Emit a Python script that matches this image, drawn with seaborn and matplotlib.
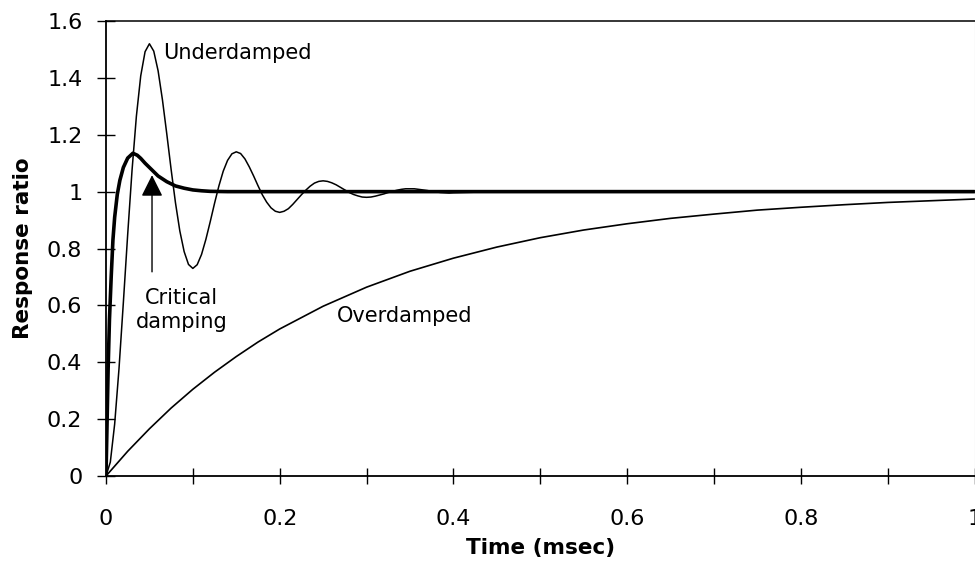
import numpy as np
import pandas as pd
import matplotlib
matplotlib.use("Agg")
import matplotlib.pyplot as plt
import seaborn as sns

# ---- data ----
under_t = list(np.round(np.arange(0, 0.4001, 0.005), 3)) + [0.45, 1.0]
under_v = [0, .049, .183, .378, .610, .850, 1.075, 1.265, 1.407, 1.492,
           1.520, 1.494, 1.425, 1.323, 1.203, 1.078, .961, .862, .789, .744,
           .730, .743, .779, .832, .894, .959, 1.020, 1.072, 1.110, 1.133,
           1.140, 1.134, 1.115, 1.087, 1.055, 1.021, .989, .963, .943, .931,
           .927, .931, .940, .955, .972, .989, 1.005, 1.019, 1.030, 1.036,
           1.038, 1.036, 1.031, 1.024, 1.015, 1.006, .997, .990, .985, .981,
           .980, .981, .984, .988, .992, .997, 1.001, 1.005, 1.008, 1.010,
           1.010, 1.010, 1.008, 1.006, 1.004, 1.001, .999, .997, .996, .995, .996,
           1.0, 1.0]

crit_t = [0, 0.001, 0.0025, 0.004, 0.006, 0.008, 0.01, 0.013, 0.016, 0.02,
          0.025, 0.031, 0.036, 0.04, 0.045, 0.05, 0.06, 0.07, 0.08, 0.09,
          0.1, 0.11, 0.12, 0.14, 1.0]
crit_v = [0, 0.15, 0.38, 0.55, 0.70, 0.83, 0.91, 0.99, 1.04, 1.085,
          1.118, 1.135, 1.128, 1.117, 1.10, 1.085, 1.055, 1.035, 1.02, 1.012,
          1.006, 1.003, 1.001, 1.0, 1.0]

over_t = [0, 0.025, 0.05, 0.075, 0.1, 0.125, 0.15, 0.175, 0.2, 0.25, 0.3, 0.35,
          0.4, 0.45, 0.5, 0.55, 0.6, 0.65, 0.7, 0.75, 0.8, 0.85, 0.9, 0.95, 1.0]
over_v = [0, .087, .166, .239, .305, .365, .420, .471, .517, .597, .664, .720,
          .766, .805, .838, .865, .887, .906, .921, .935, .945, .954, .962, .968, .974]

x_ticks = [0, 0.2, 0.4, 0.6, 0.8, 1.0]
x_tick_labels = ["0", "0.2", "0.4", "0.6", "0.8", "1"]
y_ticks = [0, 0.2, 0.4, 0.6, 0.8, 1.0, 1.2, 1.4, 1.6]
y_tick_labels = ["0", "0.2", "0.4", "0.6", "0.8", "1", "1.2", "1.4", "1.6"]

# ---- plot ----
sns.set_theme(style="white")
plt.rcParams['font.family'] = ['DejaVu Sans']
plt.rcParams['text.color'] = 'black'
plt.rcParams['axes.labelcolor'] = 'black'

fig = plt.figure(figsize=(9.75, 5.63), dpi=100)
ax = fig.add_axes([0.1087, 0.1545, 0.8908, 0.8082])

sns.lineplot(x=over_t, y=over_v, ax=ax, color="black", linewidth=1.2, sort=False)
sns.lineplot(x=under_t, y=under_v, ax=ax, color="black", linewidth=1.1, sort=False)
sns.lineplot(x=crit_t, y=crit_v, ax=ax, color="black", linewidth=2.6, sort=False)

ax.set_xlim(0, 1.0)
ax.set_ylim(0, 1.6)
ax.set_xticks(x_ticks)
ax.set_xticklabels(x_tick_labels)
ax.set_xticks([0.1, 0.3, 0.5, 0.7, 0.9], minor=True)
ax.set_yticks(y_ticks)
ax.set_yticklabels(y_tick_labels)

ax.tick_params(axis="x", which="both", direction="inout", length=11, width=1.0,
               colors="black", labelsize=16, pad=18, bottom=True)
ax.tick_params(axis="y", which="both", direction="inout", length=13, width=1.0,
               colors="black", labelsize=16, pad=10.5, left=True)

for side in ["left", "bottom"]:
    ax.spines[side].set_color("black")
    ax.spines[side].set_linewidth(1.3)
ax.spines["top"].set_color("black")
ax.spines["top"].set_linewidth(1.1)
ax.spines["right"].set_color("#bbbbbb")
ax.spines["right"].set_linewidth(0.8)

ax.set_xlabel("Time (msec)", fontsize=15.5, fontweight="bold", labelpad=7, color="black")
ax.set_ylabel("Response ratio", fontsize=15.5, fontweight="bold", labelpad=10, color="black")

ax.text(0.066, 1.487, "Underdamped", fontsize=15, va="center", ha="left", color="black")
ax.text(0.087, 0.585, "Critical\ndamping", fontsize=15, va="center", ha="center",
        linespacing=1.25, color="black")
ax.text(0.344, 0.563, "Overdamped", fontsize=15, va="center", ha="center", color="black")

ax.annotate("", xy=(0.053, 1.058), xytext=(0.053, 0.718),
            arrowprops=dict(arrowstyle="-|>,head_length=1.1,head_width=0.55",
                            color="black", lw=1.0, shrinkA=0, shrinkB=0))

fig.savefig("out.png", dpi=100)
